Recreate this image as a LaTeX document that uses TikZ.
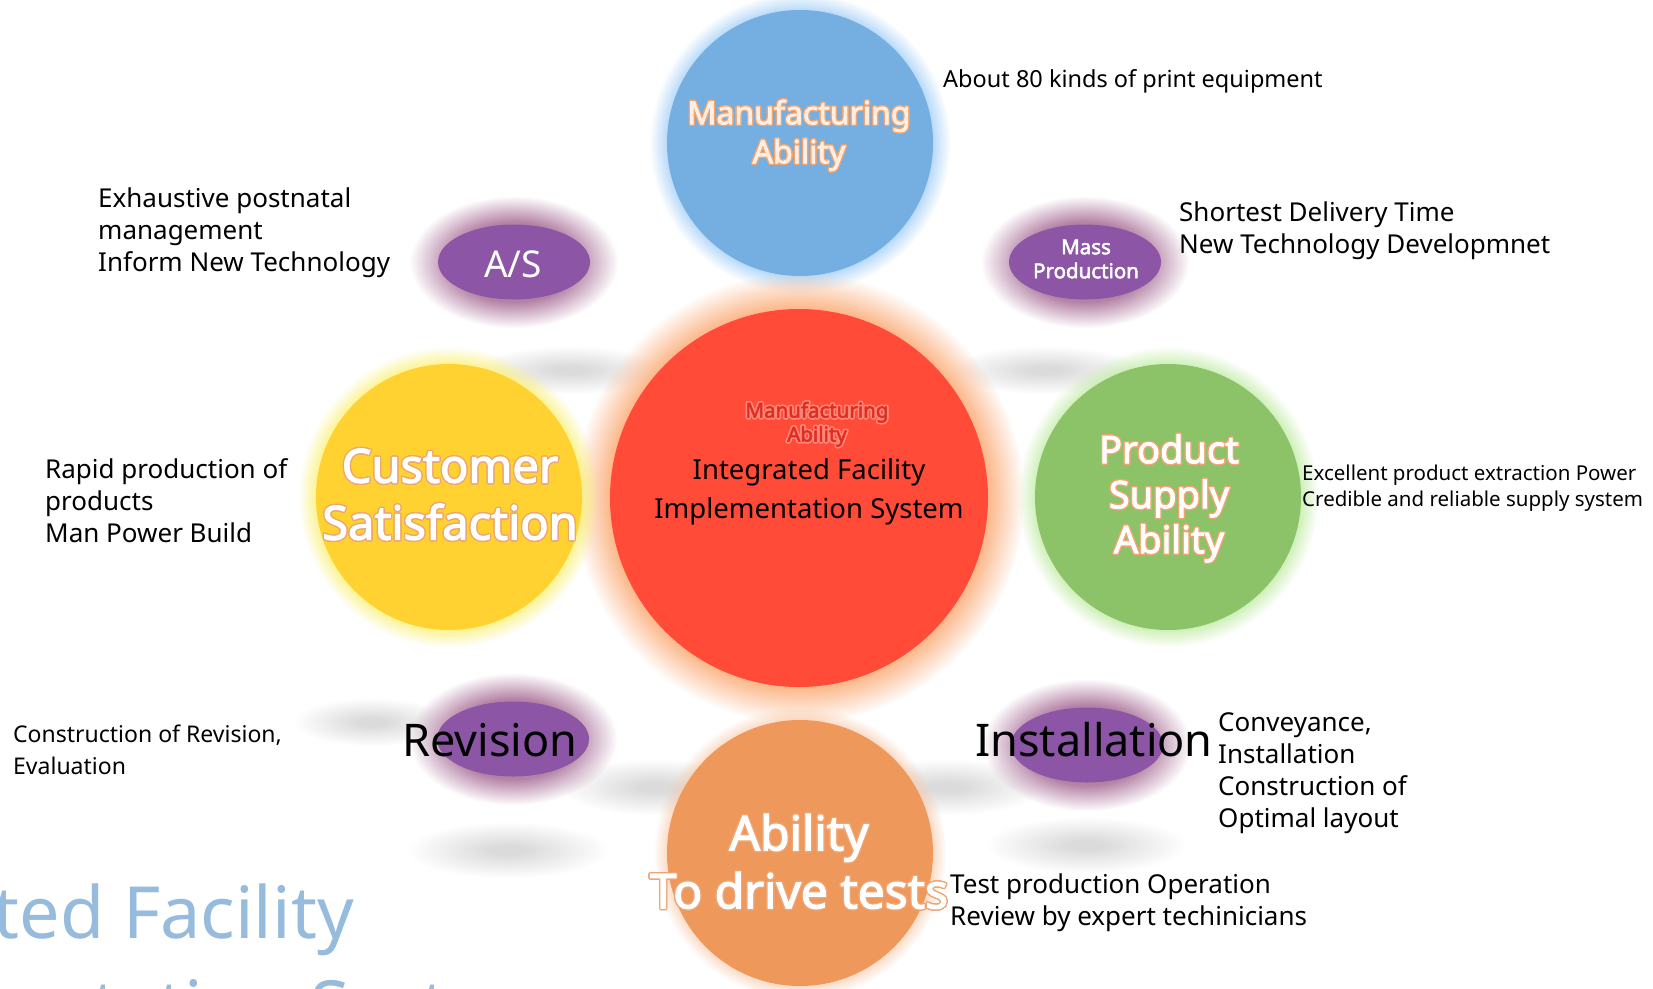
\documentclass[tikz,border=0pt]{standalone}
\usepackage{fontspec}
\setmainfont{Noto Sans}[AutoFakeBold=2.5]
\usepackage[copies]{contour}
\usetikzlibrary{fadings,shapes.geometric}

\definecolor{bluefill}{RGB}{117,174,224}
\definecolor{blueglow}{RGB}{160,205,248}
\definecolor{redfill}{RGB}{255,75,55}
\definecolor{redglow}{RGB}{252,185,140}
\definecolor{redtext}{RGB}{222,45,38}
\definecolor{redhalo}{RGB}{255,135,115}
\definecolor{yellowfill}{RGB}{255,210,50}
\definecolor{yellowglow}{RGB}{250,240,110}
\definecolor{greenfill}{RGB}{140,195,105}
\definecolor{greenglow}{RGB}{190,235,160}
\definecolor{orangefill}{RGB}{238,152,92}
\definecolor{orangeglow}{RGB}{248,195,160}
\definecolor{purplefill}{RGB}{140,85,165}
\definecolor{purpleglow}{RGB}{180,130,165}
\definecolor{labeledge}{RGB}{238,165,115}
\definecolor{peachwhite}{RGB}{255,238,225}
\definecolor{titleblue}{RGB}{150,187,220}

% soft edges for glows and reflections
\pgfdeclareradialshading{halomask}{\pgfpoint{0bp}{0bp}}{color(0bp)=(white); color(21bp)=(white); color(25bp)=(black); color(50bp)=(black)}
\pgfdeclarefading{halofade}{\pgfuseshading{halomask}}
\pgfdeclareradialshading{ringmask}{\pgfpoint{0bp}{0bp}}{color(0bp)=(white); color(15bp)=(white); color(25bp)=(black); color(50bp)=(black)}
\pgfdeclarefading{ringfade}{\pgfuseshading{ringmask}}
\pgfdeclareradialshading{smudgemask}{\pgfpoint{0bp}{0bp}}{color(0bp)=(white); color(4bp)=(white); color(25bp)=(black); color(50bp)=(black)}
\pgfdeclarefading{smudgefade}{\pgfuseshading{smudgemask}}

\contourlength{1.3pt}
\newcommand{\ringtext}[1]{\contour{labeledge}{#1}}

\begin{document}
\begin{tikzpicture}[x=1pt,y=-1pt,
	disc/.style={circle,inner sep=0,minimum size=266},
	pill/.style={ellipse,inner sep=0,minimum width=152,minimum height=75,fill=purplefill},
	tag/.style={text=white,align=center,inner sep=0},
	note/.style={anchor=west,align=left,inner sep=0,font=\fontsize{26}{32}\selectfont}]
	\useasboundingbox (0,0) rectangle (1653,988);
	\clip (0,0) rectangle (1653,988);
	\fill[white] (0,0) rectangle (1653,988);

	\coordinate (mfgc) at (800,143);
	\coordinate (corec) at (799,498);
	\coordinate (custc) at (449,497);
	\coordinate (supplyc) at (1168,497);
	\coordinate (drivec) at (800,853);
	\coordinate (asc) at (514,262);
	\coordinate (massc) at (1085,262);
	\coordinate (revc) at (513,739);
	\coordinate (instc) at (1087,745);

	% grey reflections
	\fill[gray!28,path fading=smudgefade] (570,370) ellipse (95 and 24);
	\fill[gray!28,path fading=smudgefade] (1045,370) ellipse (95 and 24);
	\fill[gray!28,path fading=smudgefade] (372,722) ellipse (78 and 24);
	\fill[gray!28,path fading=smudgefade] (508,850) ellipse (100 and 28);
	\fill[gray!28,path fading=smudgefade] (655,787) ellipse (95 and 28);
	\fill[gray!28,path fading=smudgefade] (948,787) ellipse (95 and 28);
	\fill[gray!28,path fading=smudgefade] (1086,845) ellipse (100 and 28);

	% glows
	\fill[blueglow,path fading=halofade] (mfgc) circle (150);
	\fill[redglow,path fading=halofade] (corec) circle (225);
	\fill[yellowglow,path fading=halofade] (custc) circle (150);
	\fill[greenglow,path fading=halofade] (supplyc) circle (150);
	\fill[orangeglow,path fading=halofade] (drivec) circle (146);
	\fill[purpleglow,path fading=ringfade] (asc) ellipse (104 and 66);
	\fill[purpleglow,path fading=ringfade] (massc) ellipse (104 and 66);
	\fill[purpleglow,path fading=ringfade] (revc) ellipse (104 and 66);
	\fill[purpleglow,path fading=ringfade] (instc) ellipse (104 and 66);

	% circles and ellipses
	\node[disc,fill=bluefill] (mfg) at (mfgc) {};
	\node[disc,fill=redfill,minimum size=378] (core) at (corec) {};
	\node[disc,fill=yellowfill] (cust) at (custc) {};
	\node[disc,fill=greenfill] (supply) at (supplyc) {};
	\node[disc,fill=orangefill] (drive) at (drivec) {};
	\node[pill] (as) at (asc) {};
	\node[pill] (mass) at (massc) {};
	\node[pill] (rev) at (revc) {};
	\node[pill] (inst) at (instc) {};

	% labels in the shapes
	\node[tag,text=peachwhite,font=\bfseries\fontsize{32}{39}\selectfont] (mfglabel) at (799,136) {\ringtext{Manufacturing}\\\ringtext{Ability}};
	\node[tag,font=\bfseries\fontsize{47}{57}\selectfont] (custlabel) at (450,495) {\ringtext{Customer}\\\ringtext{Satisfaction}};
	\node[tag,font=\bfseries\fontsize{38}{45}\selectfont] (supplylabel) at (1169,499) {\ringtext{Product}\\\ringtext{Supply}\\\ringtext{Ability}};
	\node[tag,font=\bfseries\fontsize{48}{58}\selectfont] (drivelabel) at (799,862) {\ringtext{Ability}\\\ringtext{To drive tests}};
	\contourlength{1.6pt}
	\node[tag,text=redtext,font=\bfseries\fontsize{20.5}{24}\selectfont] (ghostlabel) at (817,425) {\contour{redhalo}{Manufacturing}\\\contour{redhalo}{Ability}};
	\node[align=center,inner sep=0,font=\fontsize{27.5}{39}\selectfont] (corelabel) at (809,492) {Integrated Facility\\Implementation System};
	\node[tag,font=\fontsize{37}{40}\selectfont] (aslabel) at (513,264) {A/S};
	\node[tag,font=\bfseries\fontsize{20.5}{24}\selectfont] (masslabel) at (1086,259) {Mass\\Production};
	\node[inner sep=0,font=\fontsize{45}{50}\selectfont] (revlabel) at (490,740) {Revision};
	\node[inner sep=0,font=\fontsize{45}{50}\selectfont] (instlabel) at (1094,740) {Installation};

	% side notes
	\node[note,font=\fontsize{23.5}{32}\selectfont] (equip) at (943,81) {About 80 kinds of print equipment};
	\node[note] (postnatal) at (98,233) {Exhaustive postnatal\\management\\Inform New Technology};
	\node[note] (delivery) at (1179,231) {Shortest Delivery Time\\New Technology Developmnet};
	\node[note] (rapid) at (45,501) {Rapid production of\\products\\Man Power Build};
	\node[note,font=\fontsize{20.5}{26}\selectfont] (extract) at (1302,488) {Excellent product extraction Power\\Credible and reliable supply system};
	\node[note,font=\fontsize{23}{32}\selectfont] (evaluate) at (13,750) {Construction of Revision,\\Evaluation};
	\node[note] (convey) at (1218,773) {Conveyance,\\Installation\\Construction of\\Optimal layout};
	\node[note] (testrun) at (950,903) {Test production Operation\\Review by expert techinicians};

	% title cut by the page edge
	\node[anchor=base east,inner sep=0,text=titleblue,font=\fontsize{72}{90}\selectfont] (titletop) at (354,938) {Integrated Facility};
	\node[anchor=base west,inner sep=0,text=titleblue,font=\fontsize{72}{90}\selectfont] (titlebot) at ([yshift=-94]titletop.base west) {Implementation System};
\end{tikzpicture}
\end{document}
